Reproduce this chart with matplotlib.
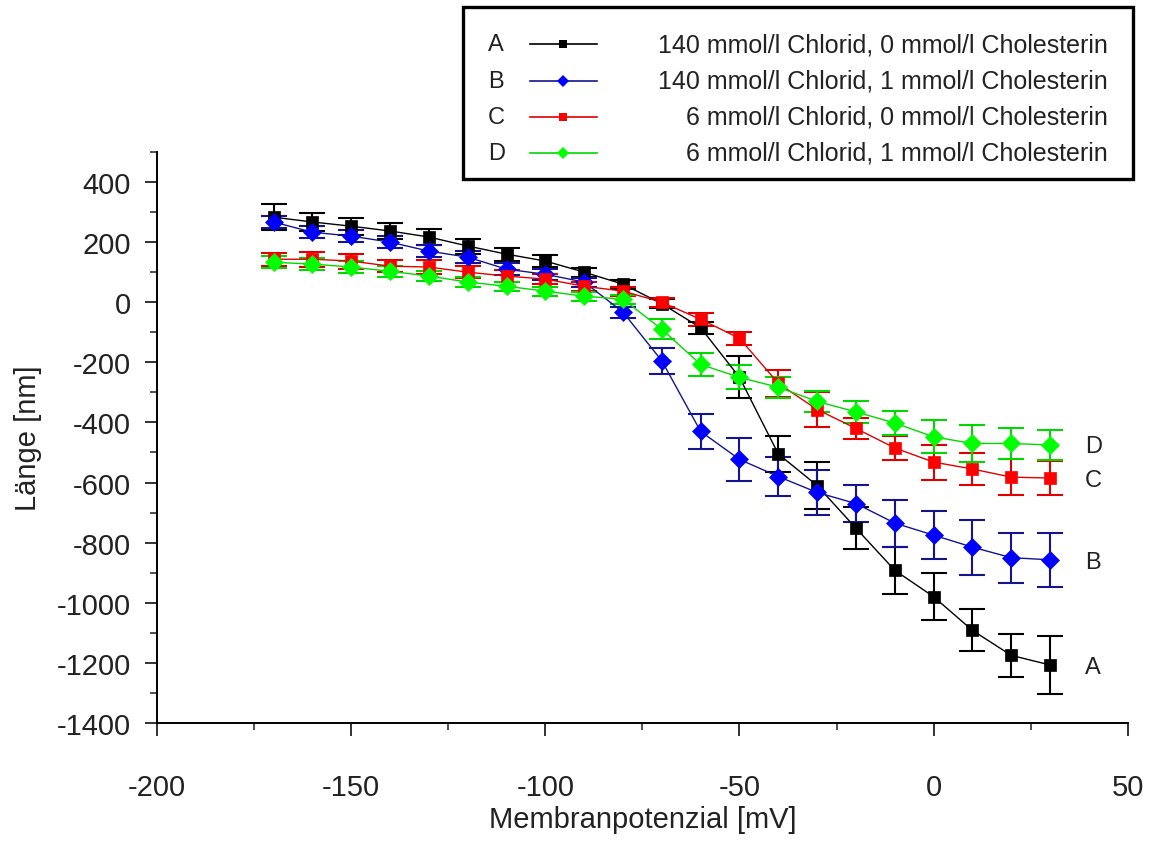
import numpy as np
import matplotlib

matplotlib.use("Agg")
import matplotlib.pyplot as plt
from matplotlib.lines import Line2D
from matplotlib.patches import Rectangle
from matplotlib.ticker import MultipleLocator

plt.rcParams["font.family"] = ["Liberation Sans", "DejaVu Sans"]
plt.rcParams["axes.unicode_minus"] = False

# membrane potential [mV]
potential = list(range(-170, 31, 10))

# A: 140 mmol/l Chlorid, 0 mmol/l Cholesterin
len_a = [283, 267, 253, 237, 217, 187, 160, 137, 100, 60, -5, -85, -250, -505,
         -610, -752, -892, -980, -1092, -1175, -1207]
err_a = [44, 30, 28, 25, 25, 25, 22, 20, 15, 15, 15, 20, 70, 60,
         78, 70, 78, 78, 70, 72, 97]

# B: 140 mmol/l Chlorid, 1 mmol/l Cholesterin
len_b = [267, 233, 220, 200, 170, 150, 110, 93, 67, -33, -195, -430, -523, -580,
         -633, -670, -735, -775, -815, -850, -857]
err_b = [20, 20, 20, 20, 20, 20, 20, 18, 15, 18, 44, 58, 72, 65,
         75, 61, 78, 80, 92, 83, 90]

# C: 6 mmol/l Chlorid, 0 mmol/l Cholesterin
len_c = [143, 143, 137, 120, 117, 100, 87, 77, 53, 37, 0, -57, -120, -270,
         -357, -420, -485, -532, -555, -582, -585]
err_c = [22, 25, 25, 20, 22, 20, 20, 18, 15, 15, 15, 22, 22, 45,
         58, 36, 40, 58, 53, 61, 58]

# D: 6 mmol/l Chlorid, 1 mmol/l Cholesterin
len_d = [133, 127, 117, 103, 87, 67, 53, 37, 20, 10, -90, -207, -250, -283,
         -330, -365, -402, -448, -470, -470, -475]
err_d = [20, 20, 20, 18, 18, 18, 15, 15, 15, 15, 33, 38, 40, 35,
         35, 36, 39, 55, 61, 50, 50]

letters = ["A", "B", "C", "D"]
labels = [
    "140 mmol/l Chlorid, 0 mmol/l Cholesterin",
    "140 mmol/l Chlorid, 1 mmol/l Cholesterin",
    "6 mmol/l Chlorid, 0 mmol/l Cholesterin",
    "6 mmol/l Chlorid, 1 mmol/l Cholesterin",
]
series = [len_a, len_b, len_c, len_d]
errors = [err_a, err_b, err_c, err_d]
marker_colors = ["#000000", "#0000ff", "#ff0000", "#00ff00"]
line_colors = ["#000000", "#14148c", "#e00000", "#00d800"]
markers = ["s", "D", "s", "D"]
# letter positions at the right end
end_label_y = [-1215, -865, -590, -480]

fig = plt.figure(figsize=(11.52, 8.45), dpi=100)
ax = fig.add_axes([0.1363, 0.1432, 0.979 - 0.1363, 0.819 - 0.1432])

for y, e, mc, lc, m in zip(series, errors, marker_colors, line_colors, markers):
    ax.errorbar(potential, y, yerr=e, color=lc, ecolor=lc, elinewidth=1.5,
                capsize=9.5, capthick=1.5, linewidth=1.0, linestyle="none",
                zorder=2)
    ax.plot(potential, y, color=lc, linewidth=1.0, marker=m, markersize=9,
            markerfacecolor=mc, markeredgecolor=mc, markeredgewidth=0.5,
            zorder=3)

for letter, ly in zip(letters, end_label_y):
    ax.text(39, ly, letter, fontsize=17, ha="left", va="center", color="#222222")

ax.set_xlim(-200, 50)
ax.set_ylim(-1400, 500)
ax.set_yticks(np.arange(-1400, 401, 200))
ax.xaxis.set_major_locator(MultipleLocator(50))
ax.xaxis.set_minor_locator(MultipleLocator(25))
ax.yaxis.set_minor_locator(MultipleLocator(100))
ax.spines["top"].set_visible(False)
ax.spines["right"].set_visible(False)
ax.spines["left"].set_linewidth(1.4)
ax.spines["bottom"].set_linewidth(1.4)
ax.tick_params(which="major", direction="out", length=9, width=1.3,
               labelsize=21, colors="#222222")
ax.tick_params(which="minor", direction="out", length=5, width=1.1,
               colors="#222222")
ax.tick_params(axis="x", which="major", pad=27)
ax.tick_params(axis="y", which="major", pad=10)
ax.set_xlabel("Membranpotenzial [mV]", fontsize=21, color="#222222", va="center")
ax.xaxis.set_label_coords(0.5, -0.168)
ax.set_ylabel("Länge [nm]", fontsize=21, color="#222222", va="center")
ax.yaxis.set_label_coords(-0.133, 0.5)

# legend box drawn in figure coordinates
W, H = 1152, 845
fig.patches.append(Rectangle((463 / W, 1 - 180 / H), (1133 - 463) / W,
                             (180 - 8) / H, transform=fig.transFigure,
                             facecolor="white", edgecolor="black",
                             linewidth=2.4, zorder=5))
row_y = [45, 82, 118, 154]
for letter, lab, mc, lc, m, ry in zip(letters, labels, marker_colors,
                                      line_colors, markers, row_y):
    yy = 1 - ry / H
    fig.text(488 / W, yy, letter, fontsize=17, va="center", ha="left",
             color="#222222", zorder=6)
    fig.add_artist(Line2D([530 / W, 597 / W], [yy, yy], transform=fig.transFigure,
                          color=lc, linewidth=1.2, zorder=6))
    fig.add_artist(Line2D([563 / W], [yy], transform=fig.transFigure, color=mc,
                          marker=m, markersize=6.5 if m == "D" else 6,
                          markeredgewidth=0, linestyle="none", zorder=7))
    fig.text(1108 / W, yy, lab, fontsize=18, va="center", ha="right",
             color="#222222", zorder=6)

fig.savefig("out.png", dpi=100, facecolor="white")
